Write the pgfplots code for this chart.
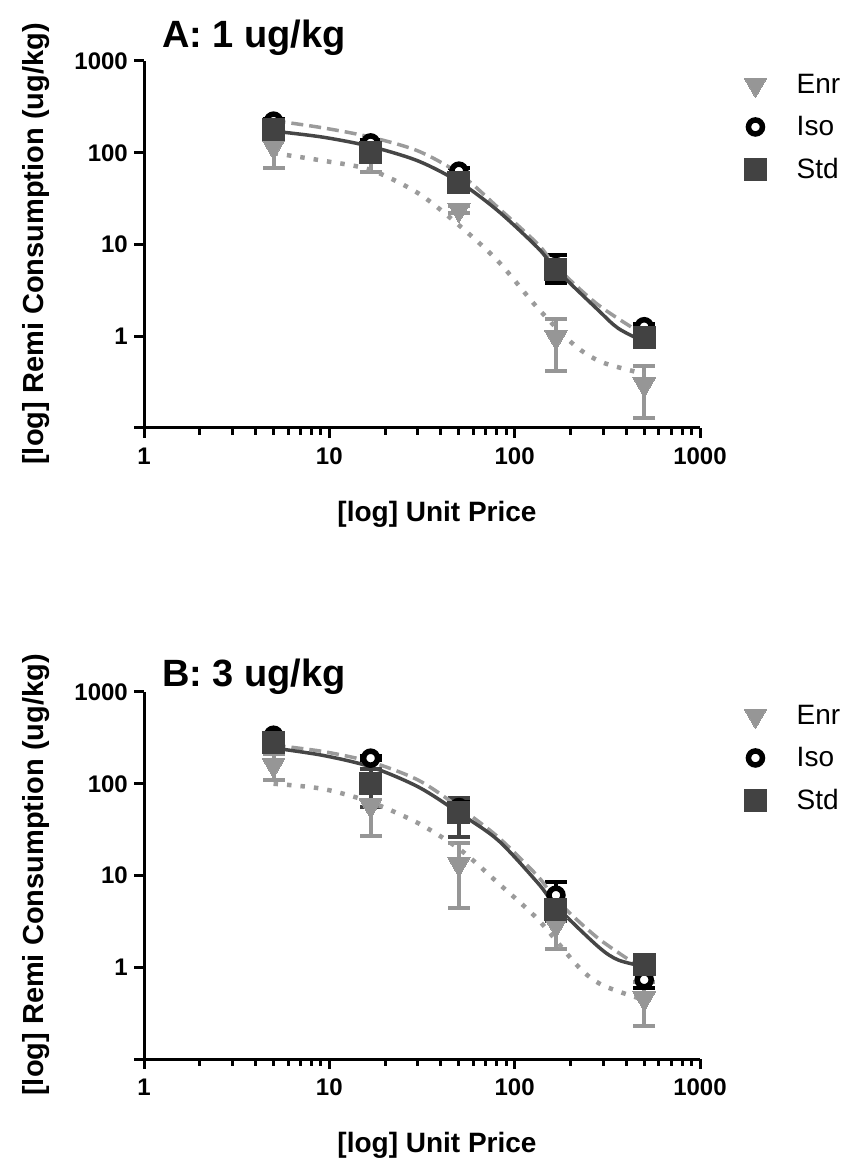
\documentclass[border=0pt]{standalone}
\usepackage{fontspec}
\setmainfont{Liberation Sans}
\usepackage{pgfplots}
\usepackage{pgfplotstable}
\pgfplotsset{compat=1.18}
\definecolor{enrc}{RGB}{150,150,150}
\definecolor{stdc}{RGB}{66,66,66}
\definecolor{fitstdc}{RGB}{70,70,70}
\definecolor{fitgc}{RGB}{155,155,155}

% Panel A data
\pgfplotstableread{
x y e
5 117 49
16.7 98 36
50 24 2
167 0.98 0.56
500 0.30 0.17
}\enrA
\pgfplotstableread{
x y e
5 221 10
16.7 128 8
50 63 5
167 5.75 1.95
500 1.27 0.1
}\isoA
\pgfplotstableread{
x y e
5 179 15
16.7 100 10
50 47 6
167 5.3 1.0
500 0.96 0.08
}\stdA
\pgfplotstableread{
x y
5 172
9.2 148
16.7 117
30.3 81
51 47
81.8 23
134 9.1
168 5.3
282 1.93
362 1.22
500 0.87
}\fitstdA
\pgfplotstableread{
x y
5 224
9.2 187
16.7 148
30.3 104
51 58
81.8 25
134 10
168 5.7
282 2.2
500 1.03
}\fitisoA
\pgfplotstableread{
x y
5 99
9.2 82
16.7 65
30.3 36
51 15.7
81.8 6.5
134 2.0
210 0.80
297 0.52
500 0.39
}\fitenrA

% Panel B data
\pgfplotstableread{
x y e
5 160 51
16.7 58 31
50 13.4 9
167 2.9 1.3
500 0.46 0.23
}\enrB
\pgfplotstableread{
x y e
5 338 15
16.7 190 10
50 55 8
167 6.1 2.5
500 0.73 0.13
}\isoB
\pgfplotstableread{
x y e
5 279 50
16.7 100 44
50 48 22
167 4.3 1.1
500 1.06 0.15
}\stdB
\pgfplotstableread{
x y
5 245
9.2 204
16.7 153
30.3 92
51 47
81.8 24
134 8.2
168 4.6
282 1.68
362 1.2
500 1.02
}\fitstdB
\pgfplotstableread{
x y
5 263
9.2 225
16.7 173
30.3 109
51 54
81.8 26
134 9.7
168 5.4
282 2.07
500 0.94
}\fitisoB
\pgfplotstableread{
x y
5 100
9.2 88
16.7 63
30.3 37
51 19
81.8 8.2
134 3.3
220 1.02
297 0.64
500 0.44
}\fitenrB

\begin{document}
\begin{tikzpicture}
\useasboundingbox (0,0) rectangle (848pt,1163pt);

% Panel A
\begin{axis}[at={(144pt,735pt)}, anchor=south west,
    scale only axis, width=556pt, height=367pt,
    xmode=log, ymode=log,
    xmin=1, xmax=1000, ymin=0.1, ymax=1000,
    axis x line*=bottom, axis y line*=left,
    axis line style={line width=3pt, black},
    xtick={1,10,100,1000}, xticklabels={1,10,100,1000},
    ytick={0.1,1,10,100,1000}, yticklabels={,1,10,100,1000},
    yminorticks=false,
    tick align=outside,
    major tick length=10pt, minor tick length=7pt,
    tick style={black, line width=3pt},
    tick label style={font=\bfseries\fontsize{24}{24}\selectfont, inner sep=0pt},
    xticklabel style={anchor=north, yshift=-10pt},
    yticklabel style={anchor=east, xshift=-6pt},
    clip=false,
    legend style={at={(1,1)}, anchor=north west, xshift=44pt, yshift=-11pt,
      draw=none, fill=none, inner sep=0pt,
      font=\fontsize{28}{28}\selectfont, row sep=17pt,
      /tikz/every odd column/.append style={column sep=28pt}},
    legend cell align=left]
\addplot[only marks, mark=triangle*, mark size=13pt, color=enrc,
    mark options={rotate=180, line width=0pt},
    error bars/y dir=both, error bars/y explicit,
    error bars/error bar style={line width=4pt, color=enrc},
    error bars/error mark options={rotate=90, mark size=11pt, line width=4pt, color=enrc}]
  table[x=x, y=y, y error=e] {\enrA};
\addlegendentry{Enr}
\addplot[only marks, mark=*, mark size=7pt, color=black,
    mark options={fill=white, draw=black, line width=5.5pt},
    error bars/y dir=both, error bars/y explicit,
    error bars/error bar style={line width=4pt, color=black},
    error bars/error mark options={rotate=90, mark size=11pt, line width=4pt, color=black}]
  table[x=x, y=y, y error=e] {\isoA};
\addlegendentry{Iso}
\addplot[only marks, mark=square*, mark size=11pt, color=stdc,
    mark options={line width=0pt},
    error bars/y dir=both, error bars/y explicit,
    error bars/error bar style={line width=4pt, color=stdc},
    error bars/error mark options={rotate=90, mark size=11pt, line width=4pt, color=stdc}]
  table[x=x, y=y, y error=e] {\stdA};
\addlegendentry{Std}
\addplot[no markers, smooth, color=fitgc, line width=4.5pt, dash pattern=on 4.5pt off 9pt, forget plot] table[x=x, y=y] {\fitenrA};
\addplot[no markers, smooth, color=fitgc, line width=3.5pt, dash pattern=on 12pt off 6pt, forget plot] table[x=x, y=y] {\fitisoA};
\addplot[no markers, smooth, color=fitstdc, line width=3.5pt, forget plot] table[x=x, y=y] {\fitstdA};
\end{axis}

% Panel B
\begin{axis}[at={(144pt,104pt)}, anchor=south west,
    scale only axis, width=556pt, height=367pt,
    xmode=log, ymode=log,
    xmin=1, xmax=1000, ymin=0.1, ymax=1000,
    axis x line*=bottom, axis y line*=left,
    axis line style={line width=3pt, black},
    xtick={1,10,100,1000}, xticklabels={1,10,100,1000},
    ytick={0.1,1,10,100,1000}, yticklabels={,1,10,100,1000},
    yminorticks=false,
    tick align=outside,
    major tick length=10pt, minor tick length=7pt,
    tick style={black, line width=3pt},
    tick label style={font=\bfseries\fontsize{24}{24}\selectfont, inner sep=0pt},
    xticklabel style={anchor=north, yshift=-10pt},
    yticklabel style={anchor=east, xshift=-6pt},
    clip=false,
    legend style={at={(1,1)}, anchor=north west, xshift=44pt, yshift=-11pt,
      draw=none, fill=none, inner sep=0pt,
      font=\fontsize{28}{28}\selectfont, row sep=17pt,
      /tikz/every odd column/.append style={column sep=28pt}},
    legend cell align=left]
\addplot[only marks, mark=triangle*, mark size=13pt, color=enrc,
    mark options={rotate=180, line width=0pt},
    error bars/y dir=both, error bars/y explicit,
    error bars/error bar style={line width=4pt, color=enrc},
    error bars/error mark options={rotate=90, mark size=11pt, line width=4pt, color=enrc}]
  table[x=x, y=y, y error=e] {\enrB};
\addlegendentry{Enr}
\addplot[only marks, mark=*, mark size=7pt, color=black,
    mark options={fill=white, draw=black, line width=5.5pt},
    error bars/y dir=both, error bars/y explicit,
    error bars/error bar style={line width=4pt, color=black},
    error bars/error mark options={rotate=90, mark size=11pt, line width=4pt, color=black}]
  table[x=x, y=y, y error=e] {\isoB};
\addlegendentry{Iso}
\addplot[only marks, mark=square*, mark size=11pt, color=stdc,
    mark options={line width=0pt},
    error bars/y dir=both, error bars/y explicit,
    error bars/error bar style={line width=4pt, color=stdc},
    error bars/error mark options={rotate=90, mark size=11pt, line width=4pt, color=stdc}]
  table[x=x, y=y, y error=e] {\stdB};
\addlegendentry{Std}
\addplot[no markers, smooth, color=fitgc, line width=4.5pt, dash pattern=on 4.5pt off 9pt, forget plot] table[x=x, y=y] {\fitenrB};
\addplot[no markers, smooth, color=fitgc, line width=3.5pt, dash pattern=on 12pt off 6pt, forget plot] table[x=x, y=y] {\fitisoB};
\addplot[no markers, smooth, color=fitstdc, line width=3.5pt, forget plot] table[x=x, y=y] {\fitstdB};
\end{axis}

\node[anchor=base west, inner sep=0pt, font=\bfseries\fontsize{38}{38}\selectfont] at (162pt,1115pt) {A: 1 ug/kg};
\node[anchor=base west, inner sep=0pt, font=\bfseries\fontsize{38}{38}\selectfont] at (162pt,476pt) {B: 3 ug/kg};
\node[anchor=base, inner sep=0pt, font=\bfseries\fontsize{28}{28}\selectfont] at (437pt,641pt) {[log] Unit Price};
\node[anchor=base, inner sep=0pt, font=\bfseries\fontsize{28}{28}\selectfont] at (437pt,10pt) {[log] Unit Price};
\node[rotate=90, anchor=base, inner sep=0pt, font=\bfseries\fontsize{29}{29}\selectfont] at (43pt,919pt) {[log] Remi Consumption (ug/kg)};
\node[rotate=90, anchor=base, inner sep=0pt, font=\bfseries\fontsize{29}{29}\selectfont] at (43pt,288pt) {[log] Remi Consumption (ug/kg)};
\end{tikzpicture}
\end{document}
